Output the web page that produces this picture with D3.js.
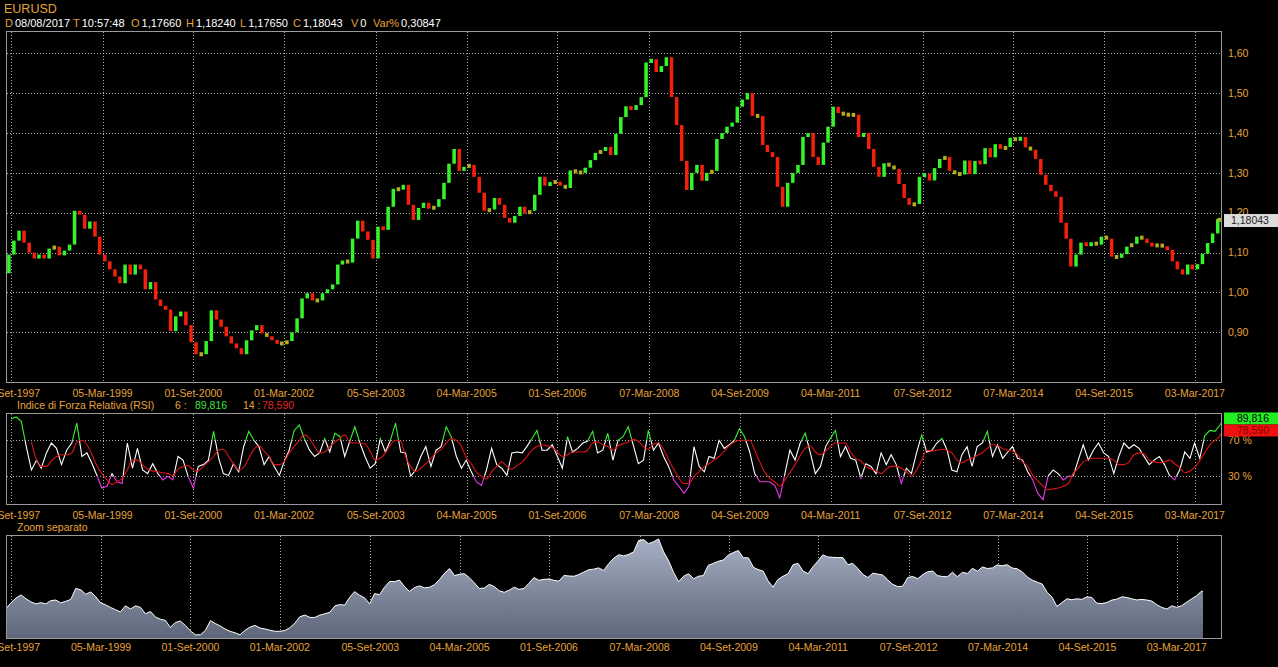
<!DOCTYPE html>
<html><head><meta charset="utf-8">
<script src="https://cdn.jsdelivr.net/npm/d3@7"></script>
<style>
body{margin:0;background:#000;overflow:hidden}
text{font-family:"Liberation Sans",Arial,sans-serif}
</style>
</head><body>
<svg id="c" width="1278" height="667"></svg>
<script>
// ---------- DATA ----------
const symbol = "EURUSD";
const headerLabels = ["D","T","O","H","L","C","V","Var%"];
const headerValues = ["08/08/2017","10:57:48","1,17660","1,18240","1,17650","1,18043","0","0,30847"];
const firstMonth = "1997-08-01";
const lastBarDate = "2017-08-10";
const firstOpen = 1.048;
// monthly closes Aug 1997 .. Aug 2017
const closes = [
1.095,1.13,1.155,1.125,1.10,1.085,1.095,1.085,1.11,1.115,
1.093,1.105,1.12,1.205,1.195,1.16,1.178,1.14,1.095,1.078,
1.058,1.04,1.023,1.07,1.045,1.07,1.058,1.008,1.026,0.982,
0.966,0.957,0.903,0.94,0.952,0.918,0.875,0.845,0.845,0.878,
0.955,0.932,0.914,0.89,0.872,0.86,0.845,0.88,0.905,0.918,
0.897,0.89,0.88,0.872,0.872,0.878,0.90,0.935,0.985,0.998,
0.98,0.98,0.998,1.008,1.02,1.07,1.08,1.075,1.135,1.18,
1.153,1.132,1.085,1.165,1.157,1.215,1.26,1.258,1.27,1.22,
1.182,1.212,1.225,1.21,1.215,1.234,1.275,1.323,1.36,1.305,
1.315,1.32,1.29,1.25,1.205,1.208,1.237,1.22,1.187,1.175,
1.192,1.215,1.198,1.205,1.245,1.29,1.268,1.276,1.278,1.268,
1.262,1.306,1.302,1.30,1.313,1.332,1.35,1.355,
1.365,1.345,1.398,1.44,1.467,1.458,1.47,1.49,1.577,1.585,1.553,
1.568,1.59,1.49,1.42,1.33,1.257,1.30,1.32,1.28,1.30,
1.305,1.385,1.40,1.416,1.426,1.466,1.484,1.50,1.443,1.443,
1.37,1.352,1.34,1.265,1.215,1.275,1.30,1.32,1.39,1.40,
1.34,1.32,1.376,1.416,1.466,1.45,1.447,1.445,1.446,1.39,
1.40,1.36,1.315,1.29,1.324,1.317,1.31,1.272,1.237,1.22,
1.222,1.29,1.298,1.281,1.312,1.335,1.34,1.305,1.298,1.296,
1.331,1.297,1.33,1.322,1.362,1.339,1.372,1.36,1.365,1.388,
1.381,1.39,1.364,1.358,1.335,1.295,1.27,1.254,1.24,1.175,
1.135,1.065,1.095,1.125,1.117,1.125,1.12,1.14,1.135,1.09,
1.088,1.096,1.115,1.122,1.14,1.135,1.124,1.116,1.12,1.115,
1.107,1.078,1.058,1.045,1.07,1.058,1.071,1.097,1.124,1.148,
1.184,1.18043];
const lastClose = 1.18043;
const rsi6 = [
94,96,91,63,37,48,39,56,67,61,
43,59,67,89,52,56,44,30,17,19,
33,24,22,67,39,61,37,33,44,33,
26,30,26,52,48,30,17,41,43,48,
80,50,33,31,44,35,63,80,70,63,
43,52,41,31,46,59,81,87,72,59,
52,56,72,57,78,74,52,69,85,67,
52,39,44,72,57,70,89,57,56,30,
37,52,63,41,59,63,85,74,52,39,
48,35,24,20,37,61,43,39,31,56,
57,56,63,72,81,59,59,65,52,39,
74,57,61,67,69,80,56,59,78,48,
70,74,85,65,44,48,81,59,67,52,
41,26,19,11,19,63,41,35,52,50,
70,61,65,70,83,74,57,33,24,24,
24,20,6,33,59,48,67,78,56,33,
41,63,72,81,52,63,50,48,28,44,
41,33,56,43,54,43,22,39,33,56,
76,57,59,67,72,59,37,35,54,63,
41,63,67,80,52,65,50,57,63,50,
48,35,26,11,4,30,37,33,26,30,
30,48,65,48,59,67,56,52,33,52,
67,61,65,61,52,43,48,52,43,31,
26,37,57,50,67,50,75,81,80,87,
89.816];
const rsi14 = [
null,null,null,null,68,48,41,41,47,52,
54,54,56,68,70,65,54,41,33,26,
21,24,28,37,48,48,43,38,36,35,
34,33,31,38,41,42,37,36,41,46,
52,59,60,52,44,37,40,50,60,64,
58,52,43,43,46,56,63,70,76,72,
63,56,57,63,68,72,76,68,67,67,
66,58,48,50,56,65,70,69,52,41,
35,39,44,50,56,60,67,72,70,63,
51,44,35,30,27,35,41,46,41,38,
42,46,52,59,63,65,64,62,57,52,
54,57,57,57,59,67,68,65,63,
59,64,66,68,71,69,63,60,66,67,
60,48,38,28,22,22,30,35,41,44,
48,52,58,64,68,70,70,70,59,46,
34,28,24,19,26,34,43,53,61,64,
57,54,58,63,67,67,67,57,50,47,
41,38,36,33,38,41,41,39,35,30,
37,48,59,58,59,60,59,56,48,45,
48,50,53,56,61,65,64,61,59,58,
54,46,41,31,25,19,15,16,17,19,
22,33,39,46,48,50,50,50,50,48,
43,43,46,54,56,55,48,46,45,46,
48,44,40,34,36,40,47,56,65,70,
75,78.59];
const rsiLast6 = "89,816", rsiLast14 = "78,590";
const tickDates = ["1997-09-01","1999-03-05","2000-09-01","2002-03-01","2003-09-05","2005-03-04","2006-09-01","2008-03-07","2009-09-04","2011-03-04","2012-09-07","2014-03-07","2015-09-04","2017-03-03"];
const tickLabels = ["01-Set-1997","05-Mar-1999","01-Set-2000","01-Mar-2002","05-Set-2003","04-Mar-2005","01-Set-2006","07-Mar-2008","04-Set-2009","04-Mar-2011","07-Set-2012","07-Mar-2014","04-Set-2015","03-Mar-2017"];
const priceTicks = [0.90,1.00,1.10,1.20,1.30,1.40,1.50,1.60];
const rsiTicks = [70,30];

// ---------- SETUP ----------
const svg = d3.select("#c");
const parse = d3.timeParse("%Y-%m-%d");
const fmt = d3.format(".2f");
const comma = s => s.replace(".", ",");
const ORANGE = "#e6a23c";
const GRID = "#a8a8a8";
const BORDER = "#9a9a9a";
const FS = "10.5px";

const t0 = parse(firstMonth), tEnd = parse(lastBarDate);
const months = d3.timeMonth.range(t0, d3.timeMonth.offset(t0, closes.length));
const closeTime = months.map(m => { const n = d3.timeMonth.offset(m,1); return n > tEnd ? tEnd : n; });

const L = 6, R = 1222;
const P1 = {top:31, bottom:383};
const P2 = {top:413, bottom:505};
const P3 = {top:535, bottom:639};

const x = d3.scaleTime().domain([t0, tEnd]).range([L, R - 0.5]);
const xb = d3.scaleTime().domain([t0, tEnd]).range([L, 1203]);
const y = d3.scaleLinear().domain([0.90, 1.60]).range([332.3, 53.3]);
const yR = d3.scaleLinear().domain([0, 100]).range([503.3, 413.3]);
const yA = d3.scaleLinear().domain([0.82, 1.605]).range([638, 537]);

const defs = svg.append("defs");
[["clipMain",P1],["clipRsi",P2],["clipBot",P3]].forEach(([id,p])=>{
  defs.append("clipPath").attr("id",id).append("rect")
    .attr("x",L+0.5).attr("y",p.top+0.5).attr("width",R-L-1).attr("height",p.bottom-p.top-1);
});
defs.append("clipPath").attr("id","rHigh").append("rect").attr("x",L).attr("y",P2.top).attr("width",R-L).attr("height",yR(70)-P2.top);
defs.append("clipPath").attr("id","rMid").append("rect").attr("x",L).attr("y",yR(70)).attr("width",R-L).attr("height",yR(30)-yR(70));
defs.append("clipPath").attr("id","rLow").append("rect").attr("x",L).attr("y",yR(30)).attr("width",R-L).attr("height",P2.bottom-yR(30));
const grad = defs.append("linearGradient").attr("id","areaGrad").attr("gradientUnits","userSpaceOnUse")
  .attr("x1",0).attr("x2",0).attr("y1",P3.top).attr("y2",P3.bottom);
grad.append("stop").attr("offset","0").attr("stop-color","#a9b2c6");
grad.append("stop").attr("offset","1").attr("stop-color","#5d6679");

// ---------- HEADER ----------
svg.append("text").attr("x",4).attr("y",13).attr("fill",ORANGE).attr("font-size","12.5px").text(symbol);
const hx = [5,73,131,186,240,293,351,373];
headerLabels.forEach((lab,i)=>{
  const t = svg.append("text").attr("x",hx[i]).attr("y",27).attr("font-size","11px");
  t.append("tspan").attr("fill",ORANGE).text(lab);
  t.append("tspan").attr("fill","#ffffff").attr("dx", 2).text(headerValues[i]);
});

// ---------- helpers ----------
function frame(p){
  svg.append("rect").attr("x",L+0.5).attr("y",p.top+0.5).attr("width",R-L-1).attr("height",p.bottom-p.top-1)
    .attr("fill","none").attr("stroke",BORDER).attr("stroke-width",1);
}
function vgrid(p, sc){
  svg.append("g").selectAll("line").data(tickDates).join("line")
    .attr("x1",d=>Math.round(sc(parse(d)))+0.5).attr("x2",d=>Math.round(sc(parse(d)))+0.5)
    .attr("y1",p.top+1).attr("y2",p.bottom-1)
    .attr("stroke",GRID).attr("stroke-dasharray","1,2").attr("stroke-width",1);
}
function xlabels(sc, yy){
  svg.append("g").selectAll("text").data(tickDates).join("text")
    .attr("x",d=>sc(parse(d))).attr("y",yy).attr("text-anchor","middle")
    .attr("fill",ORANGE).attr("font-size",FS).text((d,i)=>tickLabels[i]);
}

// ---------- MAIN PRICE PANEL ----------
vgrid(P1, x);
svg.append("g").selectAll("line").data(priceTicks).join("line")
  .attr("x1",L+1).attr("x2",R-1).attr("y1",d=>Math.round(y(d))+0.5).attr("y2",d=>Math.round(y(d))+0.5)
  .attr("stroke",GRID).attr("stroke-dasharray","1,2");
const candles = closes.map((c,i)=>({o: i===0?firstOpen:closes[i-1], c, t: closeTime[i]}));
const MINH = 4;
svg.append("g").attr("clip-path","url(#clipMain)").selectAll("rect").data(candles).join("rect")
  .attr("x",d=>x(d.t)-4).attr("width",3.5)
  .attr("y",d=>{ const a=y(Math.max(d.o,d.c)), b=y(Math.min(d.o,d.c)); return (b-a)<MINH ? (a+b)/2-MINH/2 : a; })
  .attr("height",d=>Math.max(MINH, y(Math.min(d.o,d.c))-y(Math.max(d.o,d.c))))
  .attr("fill",d=>Math.abs(d.c-d.o)<0.008 ? "#b5ad1e" : (d.c>=d.o ? "#33f52a" : "#f5200c"));
frame(P1);
xlabels(x, 397);
svg.append("g").selectAll("text").data(priceTicks).join("text")
  .attr("x",1228).attr("y",d=>y(d)).attr("dy","0.35em")
  .attr("fill",ORANGE).attr("font-size",FS).text(d=>comma(fmt(d)));
svg.append("rect").attr("x",1224).attr("y",y(lastClose)-6.5).attr("width",54).attr("height",13).attr("fill","#dcdcdc");
svg.append("text").attr("x",1231).attr("y",y(lastClose)).attr("dy","0.36em").attr("fill","#222").attr("font-size",FS)
  .text(comma(d3.format(".5f")(lastClose)));

// ---------- RSI PANEL ----------
svg.append("text").attr("x",17).attr("y",409).attr("font-size",FS).attr("fill",ORANGE).text("Indice di Forza Relativa (RSI)");
svg.append("text").attr("x",175).attr("y",409).attr("font-size",FS).attr("fill",ORANGE).text("6 :");
svg.append("text").attr("x",195).attr("y",409).attr("font-size",FS).attr("fill","#3ee23e").text(rsiLast6);
svg.append("text").attr("x",243).attr("y",409).attr("font-size",FS).attr("fill",ORANGE).text("14 :");
svg.append("text").attr("x",262).attr("y",409).attr("font-size",FS).attr("fill","#e02424").text(rsiLast14);

vgrid(P2, x);
svg.append("g").selectAll("line").data(rsiTicks).join("line")
  .attr("x1",L+1).attr("x2",R-1).attr("y1",d=>Math.round(yR(d))+0.5).attr("y2",d=>Math.round(yR(d))+0.5)
  .attr("stroke",GRID).attr("stroke-dasharray","1,2");
const rsiG = svg.append("g").attr("clip-path","url(#clipRsi)");
const line6 = d3.line().x((d,i)=>x(closeTime[i])).y(d=>yR(d));
[["rMid","#ffffff"],["rHigh","#38f030"],["rLow","#e838e8"]].forEach(([cp,col])=>{
  rsiG.append("g").attr("clip-path",`url(#${cp})`).append("path").datum(rsi6)
    .attr("d",line6).attr("fill","none").attr("stroke",col).attr("stroke-width",1.1);
});
const line14 = d3.line().defined(d=>d!==null).x((d,i)=>x(closeTime[i])).y(d=>yR(d)).curve(d3.curveMonotoneX);
rsiG.append("path").datum(rsi14).attr("d",line14).attr("fill","none").attr("stroke","#e01414").attr("stroke-width",1.1);
frame(P2);
xlabels(x, 519);
svg.append("g").selectAll("text").data(rsiTicks).join("text")
  .attr("x",1228).attr("y",d=>yR(d)).attr("dy","0.35em")
  .attr("fill",ORANGE).attr("font-size",FS).text(d=>d+" %");
const v6 = rsi6[rsi6.length-1];
const gTop = yR(v6)-10;
svg.append("rect").attr("x",1224).attr("y",gTop).attr("width",54).attr("height",12).attr("fill","#22ee22");
svg.append("text").attr("x",1253).attr("y",gTop+6).attr("dy","0.36em").attr("text-anchor","middle").attr("fill","#000").attr("font-size",FS).text(rsiLast6);
svg.append("rect").attr("x",1224).attr("y",gTop+12).attr("width",54).attr("height",12).attr("fill","#ee1111");
svg.append("text").attr("x",1253).attr("y",gTop+18).attr("dy","0.36em").attr("text-anchor","middle").attr("fill","#8a0000").attr("font-size",FS).text(rsiLast14);

// ---------- ZOOM SEPARATO ----------
svg.append("text").attr("x",17).attr("y",531).attr("font-size",FS).attr("fill",ORANGE).text("Zoom separato");
vgrid(P3, xb);
const areaPts = [{t:t0, v:firstOpen}].concat(closes.map((c,i)=>({t:closeTime[i], v:c})));
const area = d3.area().x(d=>xb(d.t)).y0(P3.bottom-1).y1(d=>yA(d.v));
const bg = svg.append("g").attr("clip-path","url(#clipBot)");
bg.append("path").datum(areaPts).attr("d",area).attr("fill","url(#areaGrad)");
bg.append("path").datum(areaPts).attr("d",d3.line().x(d=>xb(d.t)).y(d=>yA(d.v))).attr("fill","none").attr("stroke","#ffffff").attr("stroke-width",1);
frame(P3);
xlabels(xb, 651);
</script>
</body></html>
